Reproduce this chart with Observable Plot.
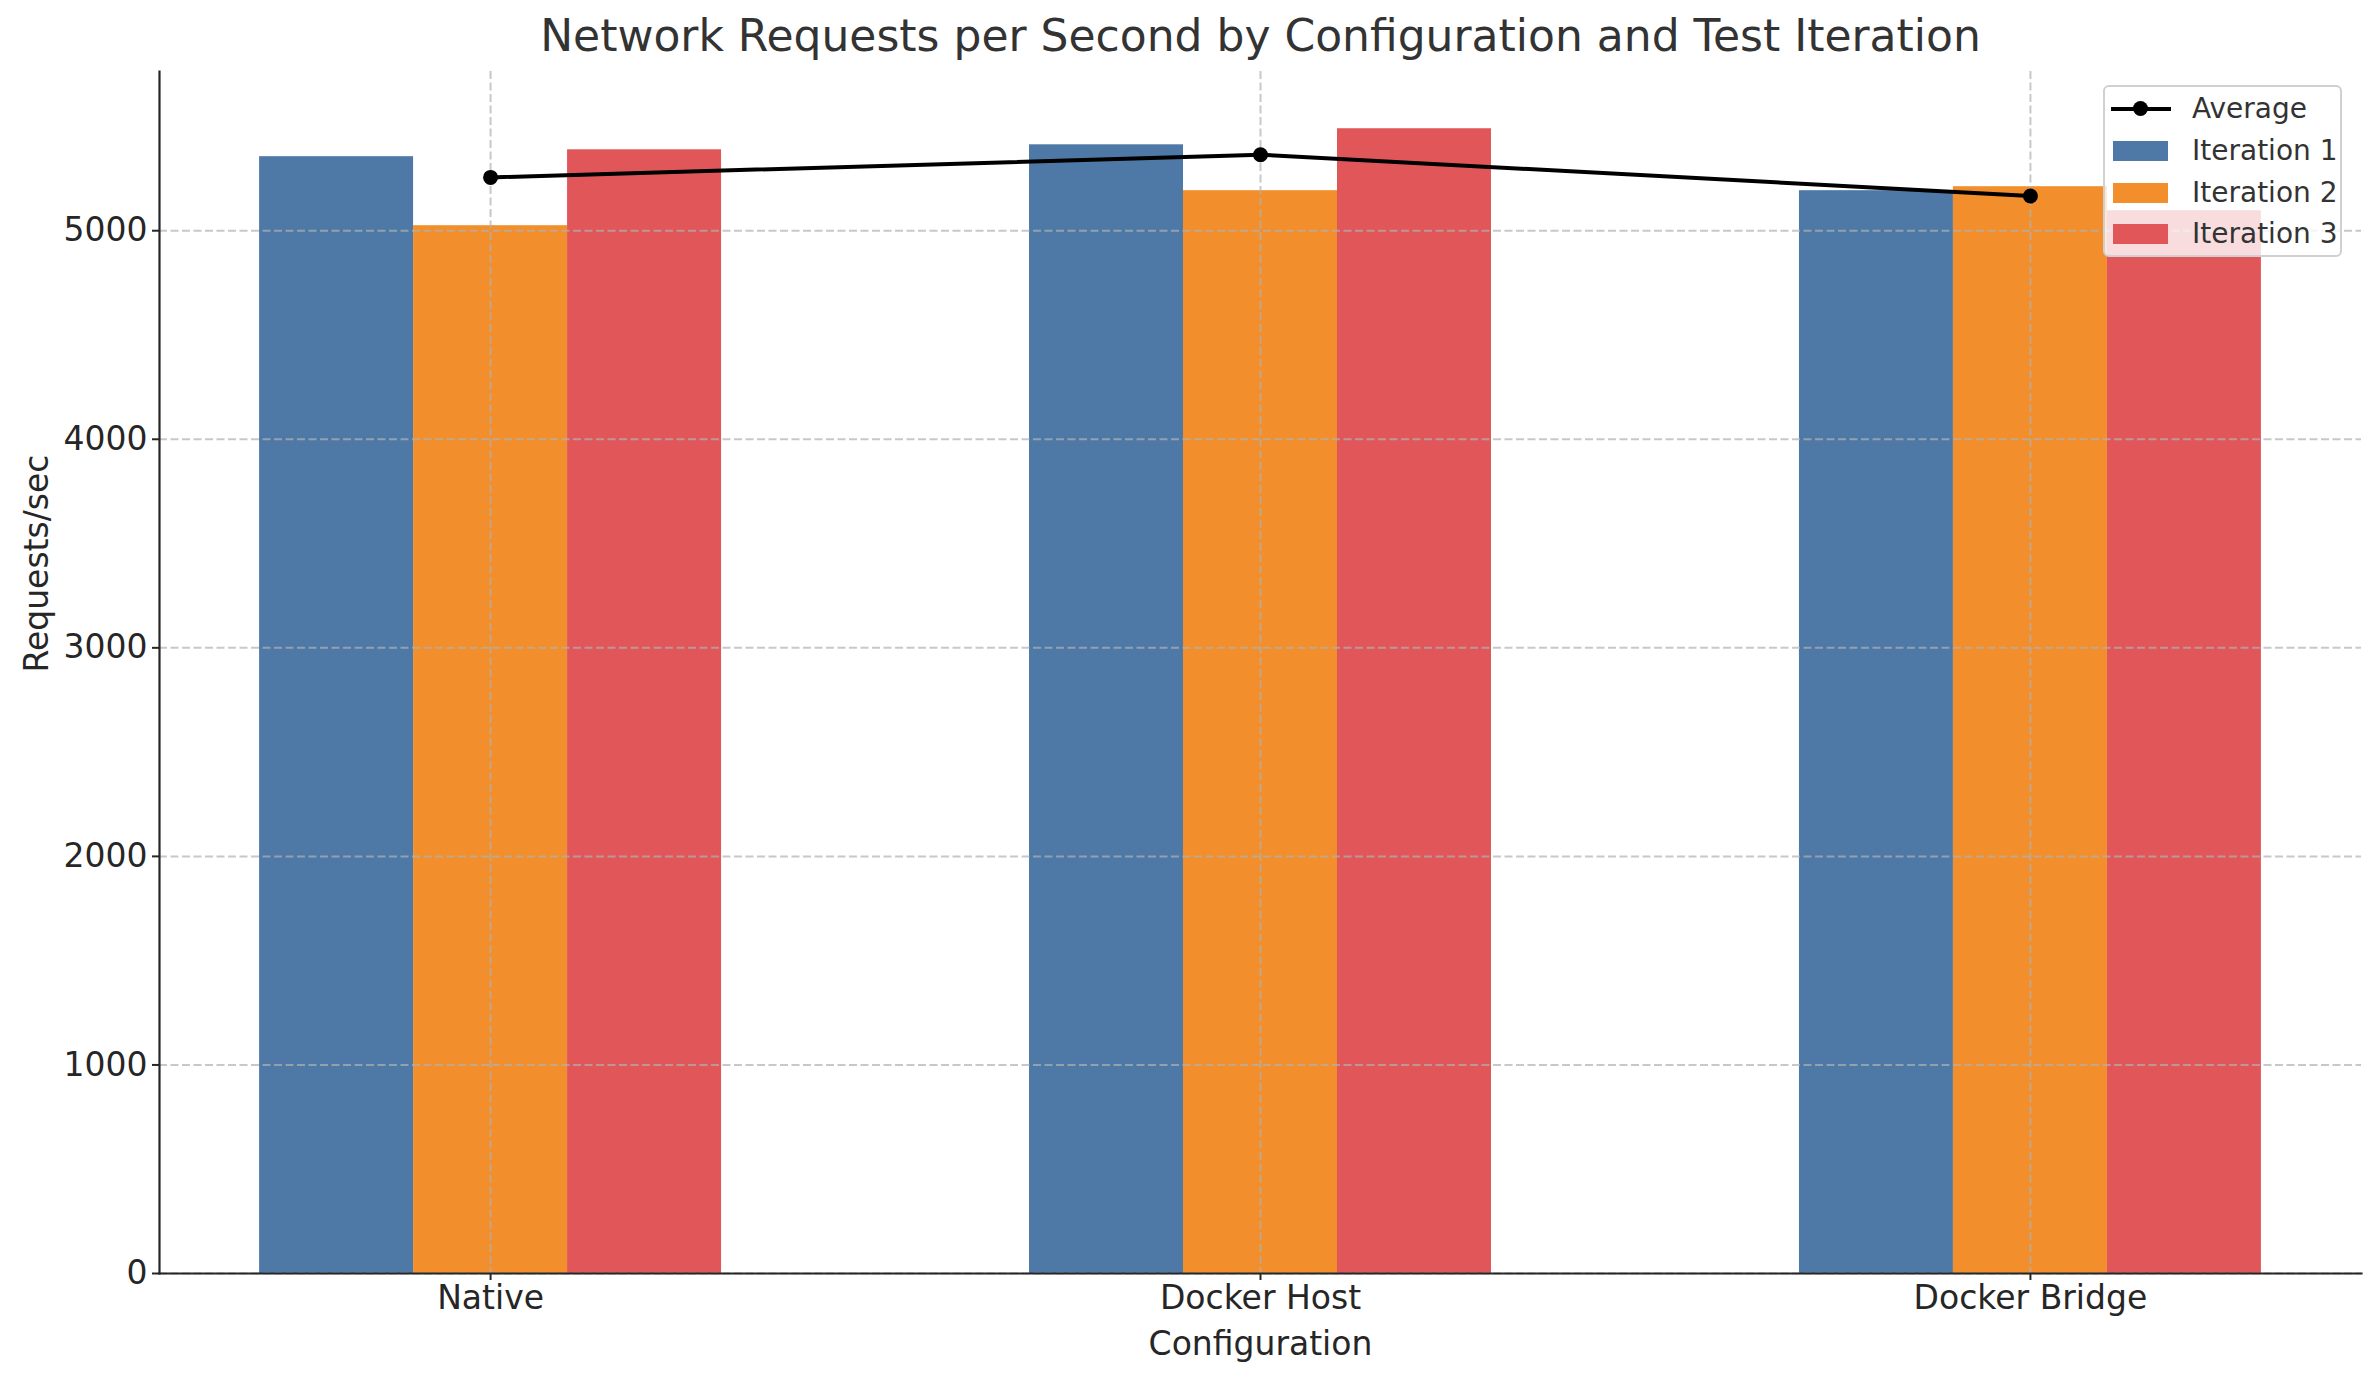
<!DOCTYPE html>
<html>
<head>
<meta charset="utf-8">
<script src="https://cdn.jsdelivr.net/npm/d3@7"></script>
<script src="https://cdn.jsdelivr.net/npm/@observablehq/plot@0.6"></script>
<style>
  html, body { margin: 0; padding: 0; background: #fff; }
  #wrap { position: relative; width: 2379px; height: 1380px; font-family: "DejaVu Sans", sans-serif; }
  #legend {
    position: absolute; left: 2103px; top: 85px; width: 239px; height: 172px;
    background: rgba(255,255,255,0.8); border: 2px solid #d0d0d0; border-radius: 6px;
    box-sizing: border-box; font-size: 28px; color: #333;
  }
  .row { position: absolute; left: 0; height: 40px; display: flex; align-items: center; }
  .sw { position: absolute; left: 8px; width: 55px; height: 20px; }
  .lbl { position: absolute; left: 87px; white-space: nowrap; line-height: 40px; }
  .avgline { position: absolute; left: 6px; top: 18px; width: 60px; height: 4px; background: #000; }
  .avgdot { position: absolute; left: 28px; top: 12px; width: 15px; height: 15px; border-radius: 50%; background: #000; }
</style>
</head>
<body>
<div id="wrap"></div>
<script>
const configs = ["Native", "Docker Host", "Docker Bridge"];
const iterations = ["Iteration 1", "Iteration 2", "Iteration 3"];
const iter1 = [5355, 5412, 5192];
const iter2 = [5024, 5192, 5211];
const iter3 = [5388, 5489, 5096];
const yTicks = [0, 1000, 2000, 3000, 4000, 5000];
const colors = ["#4e79a7", "#f28e2b", "#e15759"];

const series = [iter1, iter2, iter3];
const rows = [];
configs.forEach((c, ci) => series.forEach((s, k) => rows.push({config: c, ci, k, iter: iterations[k], value: s[ci]})));
const avgRows = configs.map((c, ci) => ({config: c, ci, avg: d3.mean(series, s => s[ci])}));

const barW = 0.2;
const maxV = d3.max(rows, d => d.value);
const span = configs.length - 1 + 3 * barW;
const xMin = -1.5 * barW - 0.05 * span;
const xMax = configs.length - 1 + 1.5 * barW + 0.05 * span;

const chart = Plot.plot({
  width: 2379, height: 1380,
  marginLeft: 159, marginRight: 18, marginTop: 71, marginBottom: 107,
  style: {fontFamily: "DejaVu Sans, sans-serif", background: "#fff"},
  x: {type: "linear", domain: [xMin, xMax]},
  y: {domain: [0, maxV * 1.05]},
  color: {domain: iterations, range: colors},
  marks: [
    Plot.rectY(rows, {
      x1: d => d.ci + (d.k - 1) * barW - barW / 2,
      x2: d => d.ci + (d.k - 1) * barW + barW / 2,
      y1: 0, y2: "value", fill: "iter"
    }),
    Plot.gridX(configs.map((c, i) => i), {stroke: "#b0b0b0", strokeOpacity: 0.7, strokeWidth: 2, strokeDasharray: "8,3.5"}),
    Plot.gridY(yTicks, {stroke: "#b0b0b0", strokeOpacity: 0.7, strokeWidth: 2, strokeDasharray: "8,3.5"}),
    Plot.line(avgRows, {x: "ci", y: "avg", stroke: "#000", strokeWidth: 4}),
    Plot.dot(avgRows, {x: "ci", y: "avg", r: 7.5, fill: "#000"}),
    Plot.axisX(configs.map((c, i) => i), {tickFormat: i => configs[i], tickSize: 7, tickPadding: 5, fontSize: 33, color: "#262626", strokeWidth: 2, label: null}),
    Plot.axisY(yTicks, {tickFormat: d3.format("d"), tickSize: 7, tickPadding: 5, fontSize: 33, color: "#262626", strokeWidth: 2, label: null}),
    Plot.frame({anchor: "left", stroke: "#262626", strokeWidth: 2.2}),
    Plot.frame({anchor: "bottom", stroke: "#262626", strokeWidth: 2.2}),
    Plot.text(["Network Requests per Second by Configuration and Test Iteration"], {frameAnchor: "top", lineAnchor: "bottom", dy: -21, fontSize: 44, fill: "#333"}),
    Plot.text(["Configuration"], {frameAnchor: "bottom", lineAnchor: "bottom", dy: 81, fontSize: 33, fill: "#262626"}),
    Plot.text(["Requests/sec"], {frameAnchor: "left", rotate: -90, dx: -122, fontSize: 33, fill: "#262626"})
  ]
});

const wrap = document.getElementById("wrap");
wrap.appendChild(chart);

const legend = document.createElement("div");
legend.id = "legend";
let html = `<div class="row" style="top:2px;width:100%"><div class="avgline"></div><div class="avgdot"></div><span class="lbl">Average</span></div>`;
iterations.forEach((it, i) => {
  html += `<div class="row" style="top:${44 + i * 41.5}px;width:100%"><div class="sw" style="background:${colors[i]};top:10px"></div><span class="lbl">${it}</span></div>`;
});
legend.innerHTML = html;
wrap.appendChild(legend);
</script>
</body>
</html>
